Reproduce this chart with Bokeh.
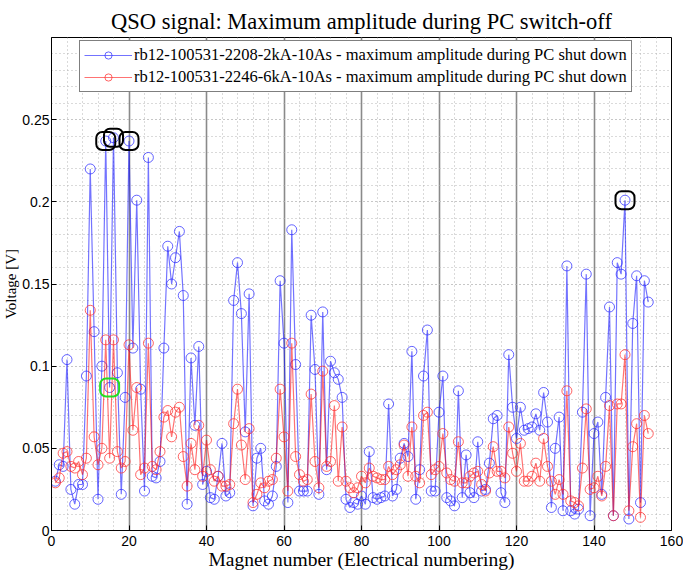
import math
from bokeh.plotting import figure
from bokeh.models import FixedTicker, Legend, LegendItem, Range1d, ColumnDataSource
from bokeh.embed import file_html
from bokeh.resources import INLINE

# ---------------- data ----------------
magnet = list(range(1, 155))

blue_2kA = [
    0.030, 0.040, 0.039, 0.104, 0.025, 0.016, 0.028, 0.028, 0.094, 0.220,
    0.121, 0.019, 0.100, 0.237, 0.087, 0.239, 0.096, 0.022, 0.081, 0.237,
    0.111, 0.201, 0.086, 0.024, 0.227, 0.033, 0.032, 0.042, 0.111, 0.173,
    0.150, 0.166, 0.182, 0.143, 0.016, 0.105, 0.064, 0.112, 0.028, 0.036,
    0.020, 0.019, 0.033, 0.053, 0.021, 0.023, 0.140, 0.163, 0.132, 0.060,
    0.144, 0.015, 0.044, 0.050, 0.018, 0.016, 0.021, 0.039, 0.152, 0.114,
    0.017, 0.183, 0.101, 0.024, 0.024, 0.024, 0.131, 0.098, 0.022, 0.133,
    0.037, 0.103, 0.096, 0.092, 0.081, 0.019, 0.014, 0.017, 0.016, 0.021,
    0.016, 0.048, 0.020, 0.019, 0.020, 0.021, 0.077, 0.021, 0.025, 0.044,
    0.053, 0.045, 0.109, 0.019, 0.037, 0.094, 0.122, 0.024, 0.024, 0.072,
    0.094, 0.020, 0.018, 0.015, 0.085, 0.020, 0.046, 0.023, 0.020, 0.054,
    0.024, 0.025, 0.041, 0.068, 0.070, 0.023, 0.017, 0.107, 0.075, 0.056,
    0.075, 0.061, 0.062, 0.063, 0.071, 0.061, 0.084, 0.066, 0.014, 0.050,
    0.069, 0.012, 0.161, 0.012, 0.010, 0.013, 0.072, 0.156, 0.009, 0.059,
    0.066, 0.022, 0.081, 0.136, 0.009, 0.163, 0.156, 0.201, 0.007, 0.126,
    0.155, 0.017, 0.152, 0.139,
]

red_6kA = [
    0.029, 0.032, 0.047, 0.048, 0.039, 0.038, 0.042, 0.034, 0.044, 0.134,
    0.057, 0.040, 0.050, 0.116, 0.044, 0.116, 0.048, 0.038, 0.042, 0.113,
    0.061, 0.087, 0.034, 0.038, 0.114, 0.039, 0.037, 0.048, 0.069, 0.073,
    0.057, 0.072, 0.075, 0.045, 0.027, 0.053, 0.037, 0.064, 0.033, 0.055,
    0.037, 0.030, 0.033, 0.027, 0.027, 0.028, 0.065, 0.086, 0.052, 0.031,
    0.062, 0.017, 0.022, 0.029, 0.026, 0.030, 0.031, 0.044, 0.086, 0.057,
    0.024, 0.114, 0.045, 0.034, 0.030, 0.031, 0.083, 0.042, 0.026, 0.097,
    0.039, 0.042, 0.076, 0.030, 0.063, 0.030, 0.026, 0.023, 0.026, 0.033,
    0.029, 0.038, 0.033, 0.032, 0.031, 0.031, 0.039, 0.034, 0.037, 0.040,
    0.052, 0.033, 0.063, 0.033, 0.029, 0.070, 0.072, 0.034, 0.037, 0.039,
    0.059, 0.035, 0.031, 0.030, 0.054, 0.029, 0.029, 0.033, 0.035, 0.036,
    0.028, 0.024, 0.035, 0.051, 0.036, 0.036, 0.032, 0.063, 0.047, 0.036,
    0.053, 0.030, 0.030, 0.033, 0.041, 0.030, 0.056, 0.039, 0.030, 0.022,
    0.031, 0.022, 0.085, 0.018, 0.017, 0.015, 0.038, 0.074, 0.025, 0.026,
    0.033, 0.021, 0.039, 0.076, 0.009, 0.077, 0.077, 0.107, 0.012, 0.051,
    0.065, 0.008, 0.070, 0.059,
]

# magnets flagged on the blue series
flag_black = [14, 16, 20, 148]
flag_green = [15]

x_ticks = [0, 20, 40, 60, 80, 100, 120, 140, 160]
y_ticks = [0, 0.05, 0.1, 0.15, 0.2, 0.25]
y_tick_labels = {0: "0", 0.05: "0.05", 0.1: "0.1", 0.15: "0.15", 0.2: "0.2", 0.25: "0.25"}
x_minor = [4 * i for i in range(41)]
y_minor = [round(0.01 * i, 2) for i in range(31)]

title_text = "QSO signal: Maximum amplitude during PC switch-off"
xlabel_text = "Magnet number (Electrical numbering)"
ylabel_text = "Voltage [V]"
name_blue = "rb12-100531-2208-2kA-10As - maximum amplitude during PC shut down"
name_red = "rb12-100531-2246-6kA-10As - maximum amplitude during PC shut down"

# ---------------- figure ----------------
W, H = 683, 574
L, R, T, B = 44, 12, 37, 44
p = figure(width=W, height=H, output_backend="svg", toolbar_location=None,
           x_range=Range1d(0, 160), y_range=Range1d(0, 0.3),
           min_border_left=L, min_border_right=R, min_border_top=T, min_border_bottom=B,
           background_fill_color="white", border_fill_color="white")
p.outline_line_color = "black"
p.outline_line_width = 1

serif = "Liberation Serif"
sans = "Liberation Sans"

p.title.text = title_text
p.title.align = "center"
p.title.text_font = serif
p.title.text_font_size = "22.5px"
p.title.text_font_style = "normal"
p.title.text_color = "black"
p.title.offset = 0
p.title.standoff = 8

for ax in (p.xaxis[0], p.yaxis[0]):
    ax.axis_line_color = "black"
    ax.major_tick_in = 5
    ax.major_tick_out = 0
    ax.minor_tick_in = 0
    ax.minor_tick_out = 0
    ax.major_label_text_font = sans
    ax.major_label_text_font_size = "14px"
    ax.major_label_text_color = "black"
    ax.major_tick_line_color = "black"
    ax.axis_label_text_font = serif
    ax.axis_label_text_font_style = "normal"
    ax.axis_label_text_color = "black"

p.xaxis[0].ticker = FixedTicker(ticks=x_ticks, minor_ticks=x_minor)
p.yaxis[0].ticker = FixedTicker(ticks=y_ticks, minor_ticks=y_minor)
p.yaxis[0].major_label_overrides = y_tick_labels
p.xaxis[0].major_label_standoff = 5
p.yaxis[0].major_label_standoff = 2
p.xaxis[0].axis_label = xlabel_text
p.xaxis[0].axis_label_text_font_size = "19.5px"
p.xaxis[0].axis_label_standoff = 0
p.yaxis[0].axis_label = ylabel_text
p.yaxis[0].axis_label_text_font_size = "15px"
p.yaxis[0].axis_label_standoff = 0

# grids
p.xgrid.grid_line_color = "#8a8a8a"
p.xgrid.grid_line_width = 1.6
p.xgrid.minor_grid_line_color = "#b4b4b4"
p.xgrid.minor_grid_line_dash = "1 3"
p.xgrid.minor_grid_line_width = 1
p.ygrid.grid_line_color = "#b4b4b4"
p.ygrid.grid_line_dash = "1 3"
p.ygrid.grid_line_width = 1
p.ygrid.minor_grid_line_color = "#b4b4b4"
p.ygrid.minor_grid_line_dash = "1 3"
p.ygrid.minor_grid_line_width = 1

src_b = ColumnDataSource(dict(x=magnet, y=blue_2kA))
src_r = ColumnDataSource(dict(x=magnet, y=red_6kA))

lb = p.line("x", "y", source=src_b, line_color="#0000ff", line_alpha=0.55, line_width=1.2)
cb = p.scatter("x", "y", source=src_b, marker="circle", size=10, fill_alpha=0,
               line_color="#3030ff", line_alpha=0.75, line_width=1)
lr = p.line("x", "y", source=src_r, line_color="#ff0000", line_alpha=0.55, line_width=1.2)
cr = p.scatter("x", "y", source=src_r, marker="circle", size=10, fill_alpha=0,
               line_color="#ff3030", line_alpha=0.75, line_width=1)

# flagged points (rounded squares)
bx = flag_black
by = [blue_2kA[m - 1] for m in flag_black]
gx = flag_green
gy = [blue_2kA[m - 1] for m in flag_green]
p.rect(bx, by, width=19, height=18, width_units="screen", height_units="screen",
       fill_alpha=0, line_color="black", line_width=2, border_radius=6)
p.rect(gx, gy, width=19, height=18, width_units="screen", height_units="screen",
       fill_alpha=0, line_color="#22dd22", line_width=2, border_radius=6)

legend = Legend(items=[LegendItem(label=name_blue, renderers=[lb, cb]),
                       LegendItem(label=name_red, renderers=[lr, cr])],
                location=(28, 438))
legend.label_text_font = serif
legend.label_text_font_size = "16.5px"
legend.label_text_color = "black"
legend.border_line_color = "black"
legend.border_line_width = 1
legend.background_fill_alpha = 1
legend.glyph_width = 48
legend.glyph_height = 18
legend.label_standoff = 2
legend.spacing = 2
legend.padding = 4
legend.margin = 0
p.add_layout(legend, "center")

open("out.html", "w").write(file_html(p, INLINE))
